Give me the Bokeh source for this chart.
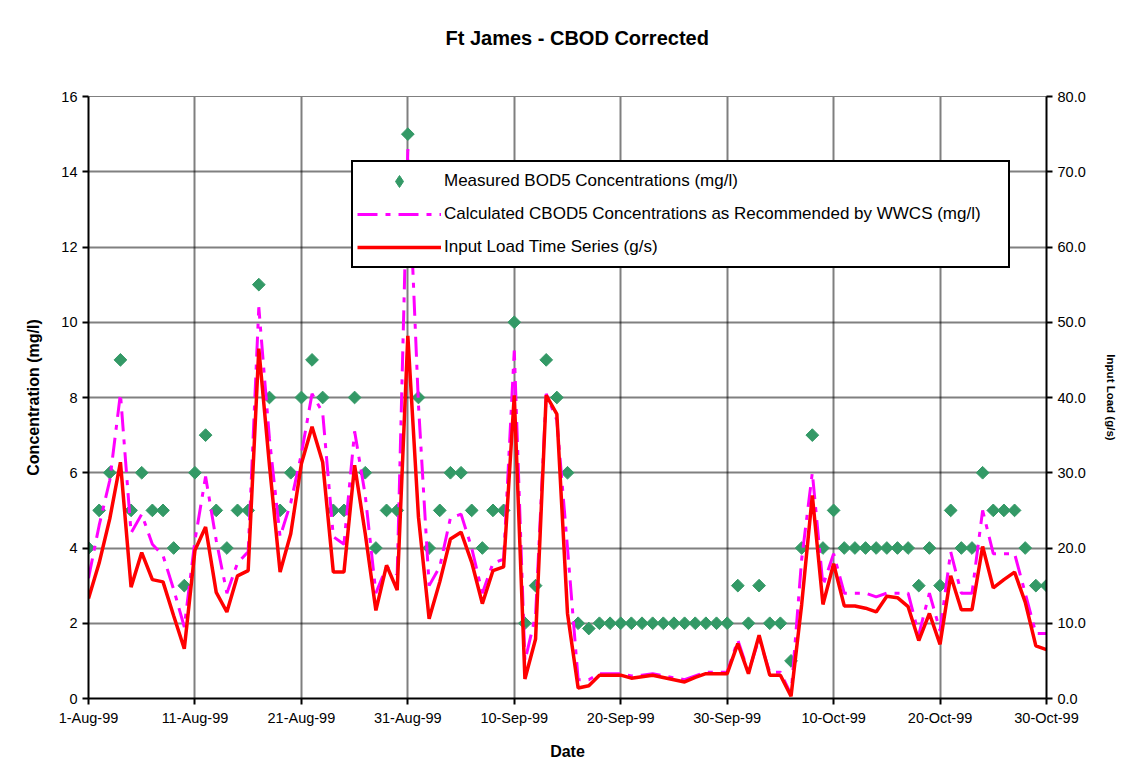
import math
import pandas as pd
from bokeh.plotting import figure
from bokeh.models import (Range1d, LinearAxis, FixedTicker, NumeralTickFormatter,
                          Legend, LegendItem, ColumnDataSource, Title)
from bokeh.embed import file_html
from bokeh.resources import INLINE

# ---------------- data ----------------
start_date = "1999-08-01"
end_date = "1999-10-30"
dates = pd.date_range(start_date, end_date, freq="D")

tick_dates = ["1999-08-01", "1999-08-11", "1999-08-21", "1999-08-31", "1999-09-10",
              "1999-09-20", "1999-09-30", "1999-10-10", "1999-10-20", "1999-10-30"]
tick_labels = ["1-Aug-99", "11-Aug-99", "21-Aug-99", "31-Aug-99", "10-Sep-99",
               "20-Sep-99", "30-Sep-99", "10-Oct-99", "20-Oct-99", "30-Oct-99"]

# Measured BOD5 concentrations (mg/l), one per day 1-Aug .. 30-Oct
measured_bod5 = [
    4, 5, 6, 9, 5, 6, 5, 5, 4, 3, 6, 7, 5, 4, 5, 5, 11, 8, 5, 6, 8, 9, 8, 5, 5, 8, 6, 4, 5, 5, 15,
    8, 4, 5, 6, 6, 5, 4, 5, 5, 10, 2, 3, 9, 8, 6, 2, 1.86, 2, 2, 2, 2, 2, 2, 2, 2, 2, 2, 2, 2, 2,
    3, 2, 3, 2, 2, 1, 4, 7, 4, 5, 4, 4, 4, 4, 4, 4, 4, 3, 4, 3, 5, 4, 4, 6, 5, 5, 5, 4, 3, 3,
]

# Calculated CBOD5 concentrations as recommended by WWCS (mg/l)
calculated_cbod5 = [
    3.2, 4.6, 5.8, 8.1, 4.4, 4.9, 4.1, 3.8, 2.9, 1.9, 4.2, 5.9, 4.2, 2.8, 3.6, 3.9,
    10.4, 6.9, 4.3, 5.2, 6.5, 8.1, 7.6, 4.3, 4.1, 7.1, 5.4, 2.8, 3.5, 3.3, 14.6,
    7.8, 3.0, 3.5, 4.8, 4.9, 4.0, 2.8, 3.6, 3.7, 9.25, 1.0, 2.2, 8.1, 7.4, 4.0,
    0.5, 0.5, 0.66, 0.66, 0.66, 0.6, 0.62, 0.66, 0.6, 0.55, 0.5, 0.6, 0.7, 0.7, 0.7,
    1.55, 0.7, 1.6, 0.7, 0.7, 0.1, 3.7, 6.0, 3.0, 3.85, 2.8, 2.8, 2.8, 2.7, 2.8,
    2.8, 2.8, 1.7, 2.8, 1.8, 3.9, 2.8, 2.8, 5.0, 3.85, 3.85, 3.85, 2.8, 1.73, 1.73,
]

# Input load time series (g/s)
input_load = [
    13.3, 18.0, 23.9, 31.4, 14.8, 19.4, 15.8, 15.5, 11.0, 6.6, 19.7, 22.8, 14.1, 11.5, 16.3, 17.0,
    46.5, 31.0, 16.8, 21.9, 31.2, 36.1, 31.4, 16.8, 16.8, 31.0, 21.9, 11.7, 17.7, 14.4, 48.2,
    24.1, 10.6, 15.5, 21.2, 22.1, 18.1, 12.6, 17.0, 17.5, 40.3, 2.6, 7.9, 40.3, 37.8, 11.3,
    1.4, 1.7, 3.1, 3.1, 3.1, 2.7, 2.9, 3.1, 2.8, 2.5, 2.2, 2.8, 3.3, 3.3, 3.3,
    7.3, 3.3, 8.4, 3.1, 3.1, 0.3, 12.5, 27.0, 12.5, 17.9, 12.3, 12.3, 12.0, 11.5, 13.6,
    13.4, 12.2, 7.7, 11.3, 7.2, 16.3, 11.8, 11.8, 20.2, 14.7, 15.8, 16.8, 12.8, 7.0, 6.5,
]

conc_ticks = [0, 2, 4, 6, 8, 10, 12, 14, 16]
load_ticks = [0, 10, 20, 30, 40, 50, 60, 70, 80]

chart_title = "Ft James - CBOD Corrected"

# ---------------- build ----------------
t0 = pd.Timestamp(start_date)
day = [(d - t0).days for d in dates]
tick_days = [(pd.Timestamp(d) - t0).days for d in tick_dates]

src = ColumnDataSource(dict(day=day, bod=measured_bod5, cbod=calculated_cbod5, load=input_load))
# a single empty (NaN) entry: only used to draw the diamond swatch in the legend
legend_src = ColumnDataSource(dict(day=[math.nan], bod=[math.nan]))

FONT = "Liberation Sans"
W, H = 1122, 762

p = figure(width=W, height=H, output_backend="svg", toolbar_location=None,
           x_range=Range1d(0, tick_days[-1]), y_range=Range1d(conc_ticks[0], conc_ticks[-1]),
           min_border_left=88, min_border_right=76, min_border_top=96, min_border_bottom=64)
p.title = None

# spacer between frame and title, then the title itself further up
p.add_layout(Title(text=" ", text_font=FONT, text_font_size="20px", standoff=24), "above")
p.add_layout(Title(text=chart_title, align="left", offset=357, text_font=FONT,
                   text_font_size="20px", text_font_style="bold", standoff=0,
                   text_color="black"), "above")

p.extra_y_ranges = {"load": Range1d(load_ticks[0], load_ticks[-1])}

p.outline_line_color = "#808080"
p.outline_line_width = 1
p.background_fill_color = "white"
p.border_fill_color = "white"

# x axis
xa = p.xaxis[0]
xa.ticker = FixedTicker(ticks=tick_days)
xa.major_label_overrides = {d: lab for d, lab in zip(tick_days, tick_labels)}
xa.axis_label = "Date"

# left axis
ya = p.yaxis[0]
ya.ticker = FixedTicker(ticks=conc_ticks)
ya.axis_label = "Concentration (mg/l)"

# right axis
ra = LinearAxis(y_range_name="load", ticker=FixedTicker(ticks=load_ticks),
                formatter=NumeralTickFormatter(format="0.0"), axis_label="Input Load (g/s)")
p.add_layout(ra, "right")

for ax in (xa, ya, ra):
    ax.axis_line_color = "black"
    ax.axis_line_width = 2
    ax.major_tick_line_color = "black"
    ax.major_tick_line_width = 2
    ax.major_tick_out = 6
    ax.major_tick_in = 0
    ax.minor_tick_line_color = None
    ax.major_label_text_font = FONT
    ax.major_label_text_font_size = "14.5px"
    ax.major_label_text_color = "black"
    ax.major_label_standoff = 5
    ax.axis_label_text_font = FONT
    ax.axis_label_text_font_style = "bold"
    ax.axis_label_text_font_size = "16px"
    ax.axis_label_text_color = "black"

xa.axis_label_standoff = 14
ya.axis_label_standoff = 16
ra.axis_label_text_font_size = "11.5px"
ra.axis_label_standoff = 16

for g in p.grid:
    g.grid_line_color = "black"
    g.grid_line_width = 2
    g.grid_line_dash = "1 1"

# glyphs
r_meas = p.scatter("day", "bod", source=src, marker="square", size=9, angle=math.pi / 4,
                   fill_color="#339966", line_color="#339966")
r_calc = p.line("day", "cbod", source=src, line_color="#FF00FF", line_width=3,
                line_dash="20 8 5 8")
r_load = p.line("day", "load", source=src, y_range_name="load", line_color="#FF0000",
                line_width=3.5)
r_meas_key = p.scatter("day", "bod", source=legend_src, marker="diamond", size=12,
                       fill_color="#339966", line_color="#339966")

legend = Legend(items=[
    LegendItem(label="Measured BOD5 Concentrations (mg/l)", renderers=[r_meas_key]),
    LegendItem(label="Calculated CBOD5 Concentrations as Recommended by WWCS (mg/l)", renderers=[r_calc]),
    LegendItem(label="Input Load Time Series (g/s)", renderers=[r_load]),
], location=(263, 430))
legend.border_line_color = "black"
legend.border_line_width = 2
legend.border_line_alpha = 1
legend.background_fill_color = "white"
legend.background_fill_alpha = 1
legend.label_text_font = FONT
legend.label_text_font_size = "17px"
legend.label_text_color = "black"
legend.glyph_width = 84
legend.glyph_height = 30
legend.label_height = 30
legend.label_width = 560
legend.spacing = 3
legend.padding = 4
legend.margin = 0
legend.label_standoff = 3
p.add_layout(legend)

open("out.html", "w").write(file_html(p, INLINE))
